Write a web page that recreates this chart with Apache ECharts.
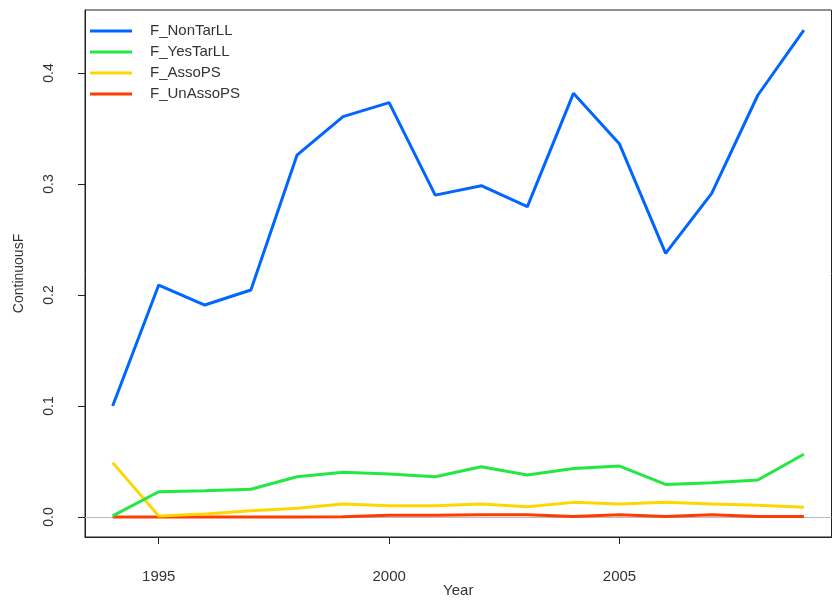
<!DOCTYPE html>
<html>
<head>
<meta charset="utf-8">
<script src="https://cdn.jsdelivr.net/npm/echarts@6/dist/echarts.min.js"></script>
<style>html,body{margin:0;padding:0;background:#fff}#c{width:833px;height:600px}</style>
</head>
<body>
<div id="c"></div>
<script>
const years = [1994,1995,1996,1997,1998,1999,2000,2001,2002,2003,2004,2005,2006,2007,2008,2009];
const fNonTarLL = [0.100,0.209,0.191,0.2045,0.326,0.3607,0.3733,0.290,0.2985,0.2796,0.3817,0.336,0.2375,0.2916,0.380,0.4387];
const fYesTarLL = [0.001,0.0228,0.0237,0.025,0.0363,0.0403,0.0387,0.0363,0.0453,0.0378,0.0438,0.0459,0.0294,0.0309,0.0333,0.0565];
const fAssoPS = [0.049,0.001,0.0027,0.0057,0.0078,0.0117,0.0102,0.0102,0.0117,0.0093,0.0132,0.0117,0.0132,0.0117,0.0105,0.0087];
const fUnAssoPS = [0,0,0,0,0,0.0003,0.0015,0.0015,0.002,0.002,0.0005,0.002,0.0005,0.002,0.0005,0.0005];
const xTicks = [1995,2000,2005];
const yTicks = [0,0.1,0.2,0.3,0.4];
const seriesNames = ['F_NonTarLL','F_YesTarLL','F_AssoPS','F_UnAssoPS'];
const seriesColors = ['#0066ff','#22e844','#ffd700','#ff3c00'];
const seriesData = [fNonTarLL,fYesTarLL,fAssoPS,fUnAssoPS];

const font = 'Liberation Sans, Arial, sans-serif';
const chart = echarts.init(document.getElementById('c'));
const series = seriesNames.map((n,i)=>({
  name:n, type:'line', data: years.map((y,k)=>[y, seriesData[i][k]]),
  showSymbol:false, symbol:'none', lineStyle:{width:3,color:seriesColors[i]}, itemStyle:{color:seriesColors[i]},
  z: 10 - i, animation:false
}));
series[0].markLine = {silent:true, symbol:'none', label:{show:false}, lineStyle:{color:'#bbbbbb',width:1,type:'solid'}, data:[{yAxis:0}], animation:false};
chart.setOption({
  animation:false,
  grid:{left:85,right:1.5,top:10,bottom:63,outerBoundsMode:'none',containLabel:false,show:true,borderColor:'#222',borderWidth:1,backgroundColor:'transparent'},
  legend:{
    orient:'vertical', left:85, top:17, icon:'rect', itemWidth:42, itemHeight:3, itemGap:3,
    data:seriesNames,
    textStyle:{fontFamily:font,fontSize:15,color:'#333',lineHeight:18,padding:[0,0,0,13]}
  },
  xAxis:{
    type:'value', min:1993.4, max:2009.6,
    name:'Year', nameLocation:'middle', nameGap:46, nameMoveOverlap:false,
    nameTextStyle:{fontFamily:font,fontSize:15,color:'#333'},
    axisLine:{show:true,onZero:false,lineStyle:{color:'#222'}},
    axisTick:{show:true,inside:false,length:7,customValues:xTicks,lineStyle:{color:'#222'}},
    axisLabel:{customValues:xTicks,margin:32,fontFamily:font,fontSize:15,color:'#333',formatter:v=>String(v)},
    splitLine:{show:false}
  },
  yAxis:{
    type:'value', min:-0.018, max:0.4568,
    name:'ContinuousF', nameLocation:'middle', nameGap:59, nameRotate:90, nameMoveOverlap:false,
    nameTextStyle:{fontFamily:font,fontSize:14,color:'#333'},
    axisLine:{show:true,onZero:false,lineStyle:{color:'#222'}},
    axisTick:{show:true,inside:false,length:7,customValues:yTicks,lineStyle:{color:'#222'}},
    axisLabel:{customValues:yTicks,rotate:90,margin:29,fontFamily:font,fontSize:14,color:'#333',
      formatter:v=>v.toFixed(1)},
    splitLine:{show:false}
  },
  series:series
});
</script>
</body>
</html>
